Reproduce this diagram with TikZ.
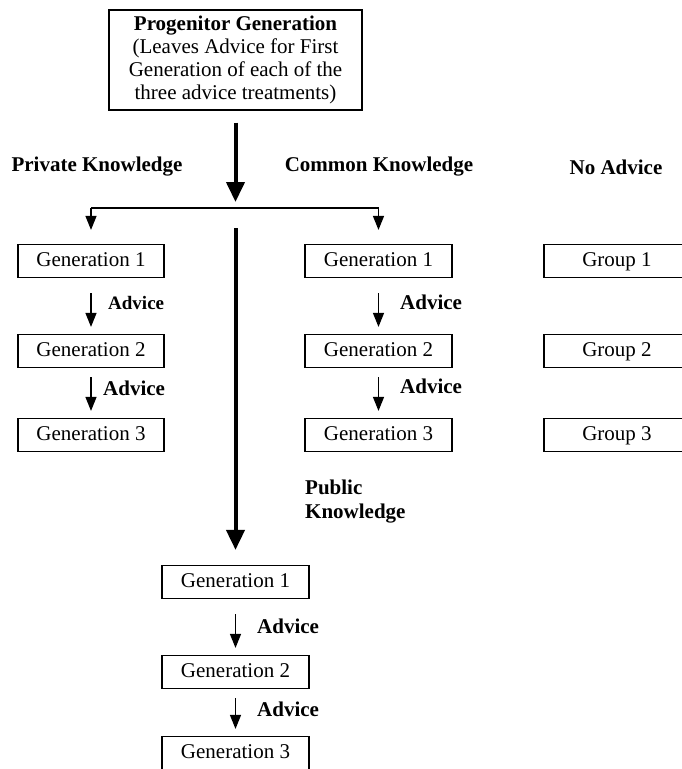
\documentclass[tikz,border=0pt]{standalone}
\usepackage{fontspec}
\setmainfont{Liberation Serif}
\usetikzlibrary{arrows.meta}
\begin{document}
\begin{tikzpicture}[x=1pt,y=-1pt,
  box/.style={draw, line width=1.2pt, minimum width=146pt, minimum height=33pt, inner sep=0pt,
    text height=14.5pt, text depth=4.5pt, font=\fontsize{21}{24}\selectfont},
  hdr/.style={font=\fontsize{21}{24}\selectfont\bfseries, inner sep=0pt},
  adv/.style={font=\fontsize{21}{24}\selectfont\bfseries, inner sep=0pt, anchor=west},
  thinarr/.style={line width=1.3pt, -{Triangle[width=11pt,length=14pt]}},
  thickarr/.style={line width=4pt, -{Triangle[width=18pt,length=20pt]}},
]
\useasboundingbox (0,0) rectangle (681,769);
\fill[white] (0,0) rectangle (681,769);

\node[draw, line width=1.2pt, minimum width=253pt, minimum height=100pt, inner sep=0pt, align=center,
      font=\fontsize{21}{23}\selectfont] (prog) at (235.5,60)
  {\textbf{Progenitor Generation}\\(Leaves Advice for First\\Generation of each of the\\three advice treatments)};

\node[hdr] (privl) at (97,167) {Private Knowledge};
\node[hdr] (comml) at (379,167) {Common Knowledge};
\node[hdr] (noadvl) at (616,167) {No Advice};

\node[box] (p1) at (91,261) {Generation 1};
\node[box] (p2) at (91,351) {Generation 2};
\node[box] (p3) at (91,435) {Generation 3};

\node[box, minimum width=147pt] (c1) at (378.5,261) {Generation 1};
\node[box, minimum width=147pt] (c2) at (378.5,351) {Generation 2};
\node[box, minimum width=147pt] (c3) at (378.5,435) {Generation 3};

\node[box, minimum width=150pt] (g1) at (619,261) {\hspace*{-4pt}Group 1};
\node[box, minimum width=150pt] (g2) at (619,351) {\hspace*{-4pt}Group 2};
\node[box, minimum width=150pt] (g3) at (619,435) {\hspace*{-4pt}Group 3};

\node[box, minimum width=147pt] (u1) at (235.5,582) {Generation 1};
\node[box, minimum width=147pt] (u2) at (235.5,672) {Generation 2};
\node[box, minimum width=147pt] (u3) at (235.5,753) {Generation 3};

\coordinate (split) at (235.5,208);
\coordinate (sl) at (p1 |- split);
\coordinate (sr) at (c1 |- split);
\coordinate (pk) at (235.5,228);

\draw[thickarr, shorten <=12pt, shorten >=6pt] (prog) -- (split);
\draw[line width=1.5pt] (sl) -- (sr);
\draw[thinarr, shorten >=14pt] (sl) -- (p1);
\draw[thinarr, shorten >=14pt] (sr) -- (c1);
\draw[thickarr, shorten >=15pt] (pk) -- (u1);

\draw[thinarr, shorten <=15pt, shorten >=7pt] (p1) -- (p2);
\draw[thinarr, shorten <=9pt, shorten >=7pt] (p2) -- (p3);
\draw[thinarr, shorten <=15pt, shorten >=7pt] (c1) -- (c2);
\draw[thinarr, shorten <=9pt, shorten >=7pt] (c2) -- (c3);
\draw[thinarr, shorten <=15pt, shorten >=7pt] (u1) -- (u2);
\draw[thinarr, shorten <=9pt, shorten >=7pt] (u2) -- (u3);

\node[adv, font=\fontsize{19}{22}\selectfont\bfseries] (a1) at (108,303) {Advice};
\node[adv] (a2) at (103,388) {Advice};
\node[adv] (a3) at (400,302) {Advice};
\node[adv] (a4) at (400,386) {Advice};
\node[adv] (a5) at (257,626) {Advice};
\node[adv] (a6) at (257,709) {Advice};

\node[hdr, anchor=west, align=left] (publ) at (305,502) {Public\\Knowledge};
\end{tikzpicture}
\end{document}
